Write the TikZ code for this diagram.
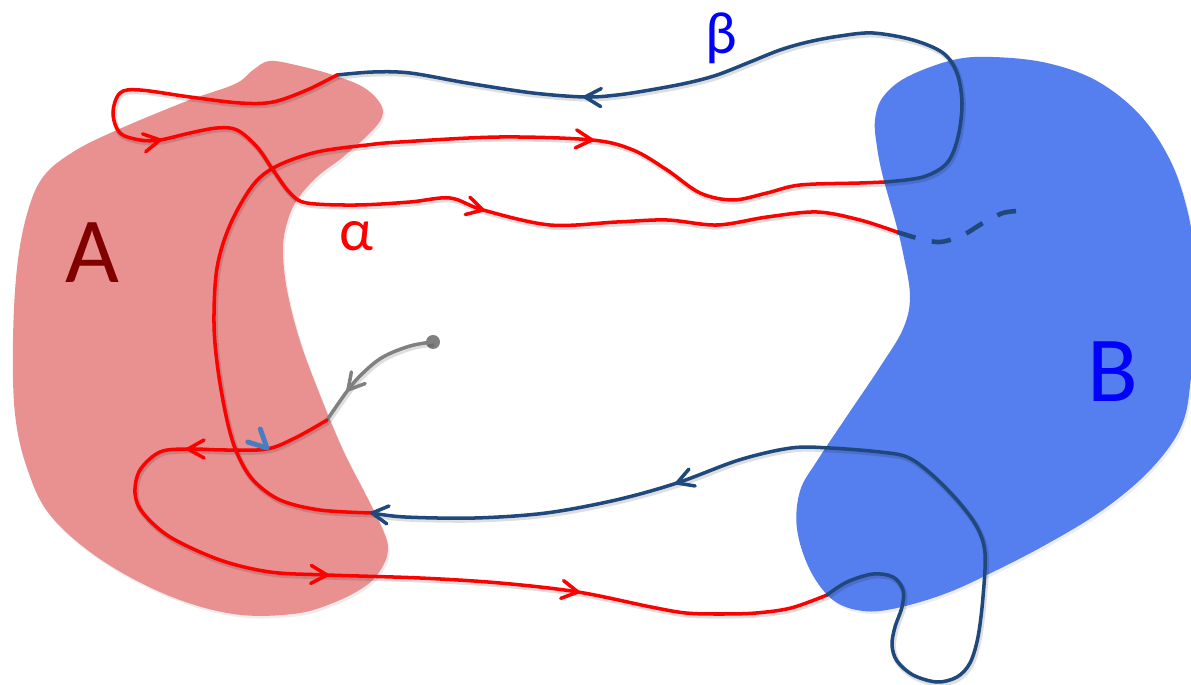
\documentclass[tikz,border=0pt]{standalone}
\usepackage{fontspec}
\setmainfont{Carlito}
\usetikzlibrary{arrows.meta}
\definecolor{setA}{RGB}{233,145,145}
\definecolor{setB}{RGB}{85,126,238}
\definecolor{labelA}{RGB}{128,0,0}
\definecolor{labelB}{RGB}{0,0,255}
\definecolor{pathred}{RGB}{255,0,0}
\definecolor{pathblue}{RGB}{31,73,125}
\definecolor{pathgray}{RGB}{128,128,128}
\definecolor{markblue}{RGB}{72,125,192}
\begin{document}
\begin{tikzpicture}[x=0.02cm,y=-0.02cm,
  region/.style={preaction={fill=black,opacity=0.07,transform canvas={xshift=1pt,yshift=-1.5pt}}},
  curve/.style={line width=2pt,line cap=round,line join=round,
    preaction={draw=black,opacity=0.13,line width=3pt,transform canvas={xshift=0.7pt,yshift=-1.1pt}}},
  pics/barb/.style={code={\draw[line width=2pt,line cap=round,line join=round,#1] (-16,9) -- (0,0) -- (-16,-9);}},
  pics/vmark/.style={code={\draw[line width=2.8pt,line cap=round,line join=round,#1] (-18,9) -- (0,0) -- (-18,-9);}},
  biglabel/.style={font=\fontsize{53}{60}\selectfont},
  greeklabel/.style={font=\fontsize{34}{40}\selectfont}]
\useasboundingbox (0,0) rectangle (1191,685);
\clip (0,0) rectangle (1191,685);

% the two regions
\fill[setA,region] plot[smooth cycle,tension=0.6] coordinates {
  (270,61) (300,66) (333,75) (363,87) (380,103) (382,117) (370,133)
  (343,157) (317,177) (297,200) (287,223) (283,250) (287,290) (300,341)
  (320,395) (343,450) (367,497) (383,530) (388,548) (383,566) (367,585)
  (333,603) (293,614) (233,614) (167,595) (100,559) (50,515) (27,468)
  (15,414) (13,341) (17,268) (27,214) (43,177) (73,152) (117,130)
  (187,101) (235,84) (253,70)};
\fill[setB,region] plot[smooth cycle,tension=0.6] coordinates {
  (993,57) (1047,63) (1097,81) (1140,115) (1170,160) (1187,209)
  (1195,260) (1197,330) (1191,378) (1185,416) (1170,446) (1140,480)
  (1097,514) (1047,544) (997,570) (947,593) (897,608) (863,611)
  (833,600) (810,570) (797,529) (800,491) (817,461) (847,416)
  (880,367) (903,329) (910,296) (903,253) (895,220) (883,177)
  (877,147) (875,120) (883,97) (907,77) (953,60)};

\node[biglabel,text=labelA] (labA) at (92,253) {A};
\node[biglabel,text=labelB] (labB) at (1113,372) {B};

% starting point and the gray lead-in
\fill[pathgray] (433,342) circle[radius=7];
\draw[curve,pathgray] plot[smooth,tension=0.6] coordinates {
  (433,342) (410,346) (383,357) (363,373) (348,390) (327,420)};

% red arc through A towards the bottom of B
\draw[curve,pathred] plot[smooth,tension=0.55] coordinates {
  (327,420) (297,437) (267,449) (225,450) (188,449) (160,452) (140,470)
  (135,493) (143,513) (170,537) (220,560) (270,572) (327,575) (420,578)
  (500,583) (578,592) (651,607) (686,613) (721,614) (756,613) (791,608)
  (827,595)};

% blue loop below B and back to A
\draw[curve,pathblue] plot[smooth,tension=0.55] coordinates {
  (827,595) (847,582) (873,574) (893,577) (903,590) (902,607) (895,627)
  (892,645) (897,661) (913,675) (937,682) (957,677) (970,663) (978,637)
  (983,597) (985,553) (977,527) (957,500) (930,473) (907,457) (880,452)
  (830,448) (791,448) (739,460) (677,483) (616,500) (546,513) (475,518)
  (405,517) (372,513)};

% red arc up through A to B
\draw[curve,pathred] plot[smooth,tension=0.55] coordinates {
  (372,513) (320,510) (280,500) (253,480) (237,453) (227,420) (218,370)
  (214,323) (217,268) (230,225) (253,185) (277,166) (317,152) (367,145)
  (400,142) (500,137) (592,140) (633,150) (667,170) (700,193) (733,200)
  (767,193) (800,185) (860,183) (885,182)};

% blue loop over the top
\draw[curve,pathblue] plot[smooth,tension=0.55] coordinates {
  (885,182) (923,177) (947,163) (958,137) (962,103) (957,73) (943,53)
  (913,40) (873,33) (840,36) (808,42) (780,50) (750,62) (717,75)
  (687,83) (650,90) (617,95) (585,97) (533,93) (467,83) (410,73)
  (373,72) (337,75)};

% red loop at the top of A and across to B
\draw[curve,pathred] plot[smooth,tension=0.55] coordinates {
  (337,75) (307,90) (273,102) (240,103) (190,97) (140,90) (120,93)
  (113,113) (120,133) (140,140) (160,140) (190,133) (217,128) (237,130)
  (257,147) (273,170) (290,193) (307,203) (357,205) (410,202) (450,198)
  (483,210) (550,225) (617,222) (667,220) (717,225) (767,217) (817,212)
  (860,220) (897,232)};

% continuation inside B
\draw[pathblue,line width=2.6pt,dash pattern=on 11pt off 9.5pt] plot[smooth,tension=0.55] coordinates {
  (897,232) (917,238) (940,242) (963,235) (983,223) (1003,213) (1020,211)};

% direction marks
\pic[rotate=230] at (348,390) {barb=pathgray};
\pic[rotate=-44] at (267,448) {vmark=markblue};
\pic[rotate=180] at (188,449) {barb=pathred};
\pic[rotate=-2] at (327,575) {barb=pathred};
\pic[rotate=-9] at (578,592) {barb=pathred};
\pic[rotate=200] at (677,483) {barb=pathblue};
\pic[rotate=173] at (372,513) {barb=pathblue};
\pic[rotate=-4] at (592,140) {barb=pathred};
\pic[rotate=178] at (585,97) {barb=pathblue};
\pic[rotate=10] at (160,140) {barb=pathred};
\pic[rotate=-15] at (483,210) {barb=pathred};

\node[greeklabel,text=pathred] (alpha) at (356,236) {α};
\node[greeklabel,text=labelB] (beta) at (721,38) {β};
\end{tikzpicture}
\end{document}
